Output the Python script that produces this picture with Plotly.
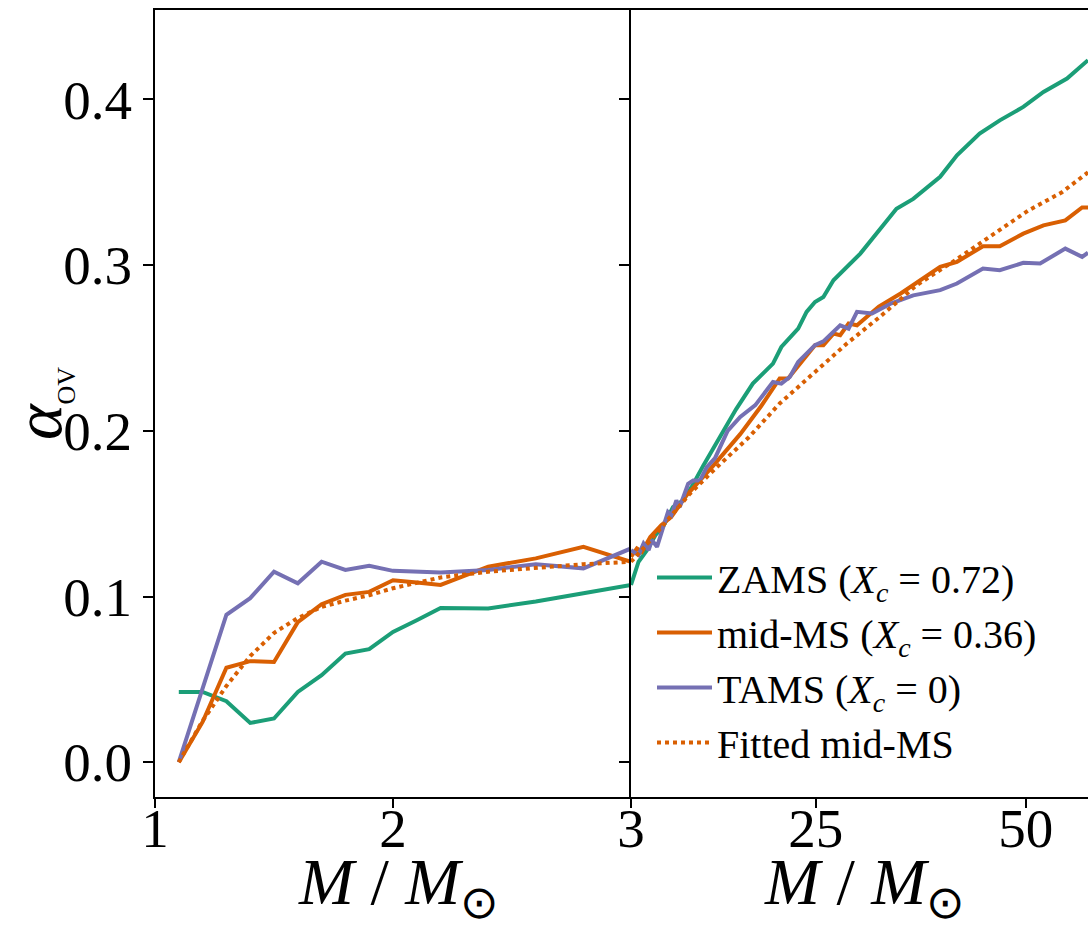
import plotly.graph_objects as go

# ---------------- data ----------------
# Left panel (1 - 3 Msun)
m_low = [1.1, 1.2, 1.3, 1.4, 1.5, 1.6, 1.7, 1.8, 1.9, 2.0, 2.1, 2.2, 2.4, 2.6, 2.8, 3.0]
zams_low = [0.0424, 0.0424, 0.0368, 0.0237, 0.0264, 0.0424, 0.0525, 0.0656, 0.0682, 0.0786,
            0.0857, 0.0931, 0.0928, 0.0970, 0.1020, 0.1070]
mid_low = [0.0, 0.0243, 0.0570, 0.0610, 0.0605, 0.0845, 0.0954, 0.1010, 0.1028, 0.1098,
           0.1085, 0.1070, 0.1180, 0.1230, 0.1300, 0.1210]
tams_low = [0.0, 0.0450, 0.0890, 0.0990, 0.1150, 0.1080, 0.1210, 0.1160, 0.1185, 0.1155,
            0.1150, 0.1145, 0.1160, 0.1195, 0.1170, 0.1290]
fit_m_low = [1.1, 1.2, 1.25, 1.3, 1.4, 1.5, 1.6, 1.7, 1.8, 1.9, 2.0, 2.2, 2.4, 2.6, 2.8, 3.0]
fit_low = [0.0, 0.0250, 0.0354, 0.0460, 0.0640, 0.0780, 0.0870, 0.0937, 0.0975, 0.1008,
           0.1050, 0.1115, 0.1150, 0.1175, 0.1195, 0.1210]

# Right panel (3 - ~57 Msun)
m_z = [3.0, 3.9, 4.9, 5.9, 6.9, 8.0, 9.2, 10.2, 11.6, 13.0, 13.8, 15.5, 17.5, 19.9, 20.9,
       22.9, 23.9, 24.9, 25.9, 27.1, 30.3, 34.6, 36.6, 39.8, 41.8, 44.5, 46.9, 49.7, 52.1,
       54.9, 57.4]
zams_high = [0.107, 0.121, 0.128, 0.137, 0.143, 0.154, 0.158, 0.166, 0.179, 0.191, 0.198,
             0.213, 0.2285, 0.2406, 0.2506, 0.2617, 0.2718, 0.2778, 0.2808, 0.2909, 0.307,
             0.334, 0.340, 0.3533, 0.3663, 0.3794, 0.3874, 0.3955, 0.4045, 0.4126, 0.4237]
m_mid = [3.0, 3.7, 4.3, 5.3, 6.6, 7.8, 9.6, 11.2, 12.8, 16.0, 18.5, 20.7, 21.7, 24.9, 25.9,
         27.1, 27.9, 28.9, 29.9, 32.5, 35.1, 39.8, 41.8, 44.9, 46.9, 49.7, 52.1, 54.7,
         56.7, 57.4]
mid_high = [0.124, 0.129, 0.127, 0.136, 0.143, 0.148, 0.161, 0.170, 0.179, 0.198, 0.215,
            0.2316, 0.2316, 0.2517, 0.2517, 0.2587, 0.2577, 0.2648, 0.2637, 0.275, 0.2829,
            0.299, 0.302, 0.3114, 0.3114, 0.319, 0.324, 0.327, 0.3348, 0.3348]
m_tams = [3.0, 3.9, 4.5, 5.1, 5.5, 6.1, 7.4, 7.8, 8.4, 8.8, 9.8, 10.4, 11.2, 12.0, 13.0,
          14.5, 16.0, 17.8, 19.9, 20.9, 21.9, 22.9, 24.9, 25.9, 27.9, 28.9, 29.9, 31.7,
          34.0, 36.6, 39.8, 41.8, 44.9, 46.9, 49.7, 51.7, 54.7, 56.7, 57.4]
tams_high = [0.128, 0.125, 0.132, 0.128, 0.134, 0.130, 0.151, 0.149, 0.158, 0.154, 0.168,
             0.170, 0.170, 0.178, 0.1835, 0.200, 0.2084, 0.2155, 0.2295, 0.2285, 0.2325,
             0.2416, 0.2517, 0.2540, 0.2637, 0.2617, 0.2718, 0.2708, 0.2770, 0.2818,
             0.2849, 0.2889, 0.2980, 0.2970, 0.3014, 0.3010, 0.3100, 0.3050, 0.3075]
fit_m_high = [3.0, 5.0, 8.0, 10.0, 13.0, 17.0, 20.7, 24.7, 28.7, 32.6, 37.0, 41.6, 45.9,
              50.3, 54.3, 57.4]
fit_high = [0.121, 0.132, 0.150, 0.162, 0.177, 0.196, 0.2165, 0.2346, 0.2527, 0.2687,
            0.2879, 0.303, 0.318, 0.333, 0.344, 0.356]

labels = ["ZAMS (<i>X</i><sub><i>c</i></sub> = 0.72)",
          "mid-MS (<i>X</i><sub><i>c</i></sub> = 0.36)",
          "TAMS (<i>X</i><sub><i>c</i></sub> = 0)",
          "Fitted mid-MS"]
colors = ["#1b9e77", "#d95f02", "#7570b3", "#d95f02"]

yticks = [0.0, 0.1, 0.2, 0.3, 0.4]
xticks_low = [1, 2, 3]
xticks_high = [25, 50]
xtitle = "<i>M</i> / <i>M</i><sub>⊙</sub>"
ytitle = "<i>α</i><sub><span style='font-size:26px'>OV</span></sub>"

# ---------------- figure ----------------
FONT = "Liberation Serif"
LW = 4
fig = go.Figure()

def add(x, y, name, color, dash, xa, ya, show):
    fig.add_trace(go.Scatter(x=x, y=y, mode="lines", name=name, xaxis=xa, yaxis=ya,
                             line=dict(color=color, width=LW, dash=dash),
                             showlegend=show, legendrank=labels.index(name)))

# left panel
add(m_low, zams_low, labels[0], colors[0], "solid", "x", "y", False)
add(m_low, mid_low, labels[1], colors[1], "solid", "x", "y", False)
add(m_low, tams_low, labels[2], colors[2], "solid", "x", "y", False)
add(fit_m_low, fit_low, labels[3], colors[3], "dot", "x", "y", False)
# right panel
add(m_z, zams_high, labels[0], colors[0], "solid", "x2", "y2", True)
add(m_mid, mid_high, labels[1], colors[1], "solid", "x2", "y2", True)
add(m_tams, tams_high, labels[2], colors[2], "solid", "x2", "y2", True)
add(fit_m_high, fit_high, labels[3], colors[3], "dot", "x2", "y2", True)

W, H = 1088, 935
xl, xm = 155, 631
yr = [-0.021, 0.454]
ax_common = dict(showgrid=False, zeroline=False, showline=True, linecolor="black",
                 linewidth=2, ticks="outside", tickcolor="black", tickwidth=1.8,
                 automargin=False,
                 tickfont=dict(family=FONT, size=55, color="black"))
title_font = dict(family=FONT, size=66, color="black")

fig.update_layout(
    template="none",
    width=W, height=H,
    margin=dict(l=0, r=0, t=10, b=138),
    paper_bgcolor="white", plot_bgcolor="white",
    font=dict(family=FONT, color="black"),
    xaxis=dict(domain=[xl / W, xm / W], range=[1, 3], tickvals=xticks_low,
               ticklen=9, mirror=True, anchor="y", ticklabelstandoff=-27, **ax_common),
    yaxis=dict(domain=[0, 1], range=yr, tickvals=yticks, tickformat=".1f", ticklen=10,
               mirror=False, anchor="x", ticklabelstandoff=0,
               title=dict(text=ytitle, font=dict(family=FONT, size=68, color="black"),
                          standoff=14),
               **ax_common),
    xaxis2=dict(domain=[xm / W, 1], range=[3, 57.4], tickvals=xticks_high, ticklen=9,
                mirror=True, anchor="y2", ticklabelstandoff=-27, **ax_common),
    yaxis2=dict(domain=[0, 1], range=yr, tickvals=yticks, ticklen=10, showticklabels=False,
                anchor="x2", mirror=False, **ax_common),
    legend=dict(x=(652 - xm) / (W - xm) * (1 - xm / W) + xm / W, y=(797 - 545) / 787,
                xanchor="left", yanchor="top", bgcolor="rgba(0,0,0,0)",
                font=dict(family=FONT, size=40, color="black"), itemwidth=55,
                traceorder="normal", tracegroupgap=0),
)

# x-axis titles placed under each panel
for cx in [(xl + xm) / 2, (xm + W) / 2]:
    fig.add_annotation(text=xtitle, xref="paper", yref="paper",
                       x=(cx + 5) / W, y=(797 - 843) / 787, xanchor="center", yanchor="top",
                       showarrow=False, font=title_font)

fig.write_html("out.html")
